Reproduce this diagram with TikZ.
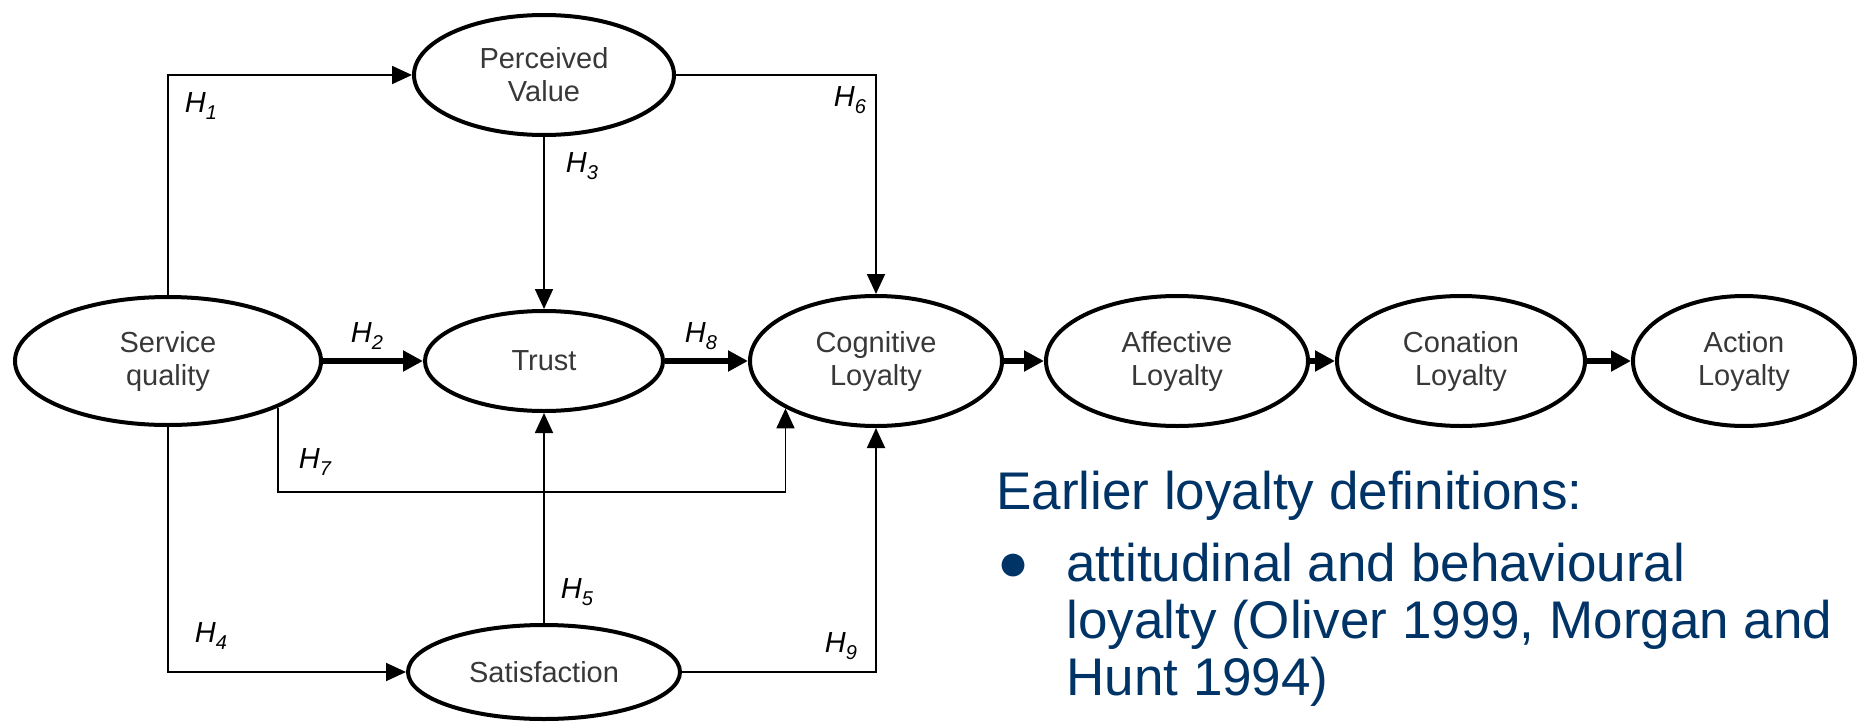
\documentclass[tikz,border=0pt]{standalone}
\usepackage{fontspec}
\setmainfont{Liberation Sans}
\usetikzlibrary{arrows.meta,shapes.geometric}
\definecolor{navy}{RGB}{0,51,102}

\begin{document}
\begin{tikzpicture}[x=0.5pt, y=-0.5pt,
        construct/.style={ellipse, draw=black, line width=2pt, inner sep=0pt, align=center,
            text=black!78, font=\fontsize{14.5}{16.5}\selectfont},
        link/.style={line width=0.9pt, -{Triangle[length=10pt,width=9pt]}},
        biglink/.style={line width=3pt, -{Triangle[length=10pt,width=10pt]}},
        hyp/.style={inner sep=0pt, font=\fontsize{14.5}{15}\selectfont\itshape},
        blue text/.style={inner sep=0pt, anchor=base west, text=navy, font=\fontsize{26.5}{28.5}\selectfont}]
                    \useasboundingbox (0,0) rectangle (1857,722);

                    % Constructs
                    \node[construct, minimum width=130pt, minimum height=60pt] (pv) at (544,75) {Perceived\\Value};
                    \node[construct, minimum width=153pt, minimum height=64pt] (sq) at (168,361) {Service\\quality};
                    \node[construct, minimum width=119pt, minimum height=50pt] (trust) at (544,361) {Trust};
                    \node[construct, minimum width=126pt, minimum height=65pt] (cog) at (876,361) {Cognitive\\Loyalty};
                    \node[construct, minimum width=131pt, minimum height=65pt] (aff) at (1177,361) {Affective\\Loyalty};
                    \node[construct, minimum width=124pt, minimum height=65pt] (con) at (1461,361) {Conation\\Loyalty};
                    \node[construct, minimum width=111pt, minimum height=65pt] (act) at (1744,361) {Action\\Loyalty};
                    \node[construct, minimum width=136pt, minimum height=47pt] (sat) at (544,672) {Satisfaction};

                    % Hypothesised paths
                    \draw[link] (sq.north) |- (pv.west);
                    \draw[link] (pv.east) -| (cog.north);
                    \draw[link] (pv.south) -- (trust.north);
                    \draw[biglink] (sq.east) -- (trust.west);
                    \draw[biglink] (trust.east) -- (cog.west);
                    \draw[link] (sq.south east) -- ++(0,84) -| (cog.south west);
                    \draw[link] (sq.south) |- (sat.west);
                    \draw[link] (sat.north) -- (trust.south);
                    \draw[link] (sat.east) -| (cog.south);

                    % Loyalty chain
                    \foreach \from/\to in {cog/aff, aff/con, con/act}
                        \draw[biglink] (\from.east) -- (\to.west);

                    % Labels H1 ... H9
                    \foreach \i/\pos in {1/{(201,106)}, 2/{(367,336)}, 3/{(582,166)}, 4/{(211,636)}, 5/{(577,592)},
                                         6/{(850,100)}, 7/{(315,462)}, 8/{(701,336)}, 9/{(841,646)}}
                        \node[hyp] (h\i) at \pos {H\raisebox{-0.22em}{\fontsize{10}{10}\selectfont\i}};

                    % Earlier definitions
                    \node[blue text] (head) at (996,509) {Earlier loyalty definitions:};
                    \node[blue text] (dot) at (997,580) {●};
                    \node[blue text, align=left] (defs) at (1066,695) {attitudinal and behavioural\\loyalty (Oliver 1999, Morgan and\\Hunt 1994)};
                \end{tikzpicture}
\end{document}
